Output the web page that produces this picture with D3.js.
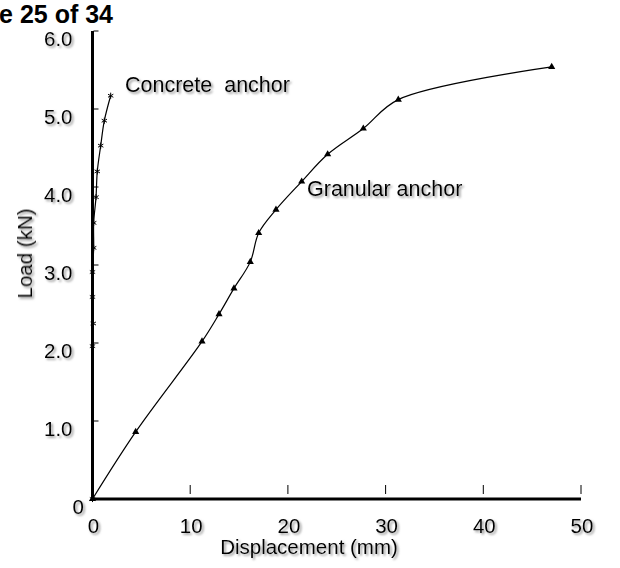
<!DOCTYPE html>
<html><head><meta charset="utf-8">
<script src="https://cdn.jsdelivr.net/npm/d3@7"></script>
<style>body{margin:0;background:#fff}svg{display:block}text{font-family:"Liberation Sans",Arial,sans-serif}</style>
</head><body><svg id="c" width="620" height="568"></svg>
<script>
const xTicks = [0, 10, 20, 30, 40, 50];
const yTicks = [0, 1, 2, 3, 4, 5, 6];
const yTickLabels = ["0", "1.0", "2.0", "3.0", "4.0", "5.0", "6.0"];
const concreteX = [0, 0, 0.08, 0, 0, 0.12, 0.12, 0.36, 0.49, 0.84, 1.21, 1.86];
const concreteY = [0, 1.96, 2.25, 2.59, 2.91, 3.22, 3.54, 3.87, 4.20, 4.53, 4.85, 5.17];
const granularX = [0, 4.42, 11.21, 12.95, 14.48, 16.15, 17.01, 18.78, 21.41, 24.07, 27.72, 31.30, 47.0];
const granularY = [0, 0.86, 2.02, 2.37, 2.70, 3.04, 3.41, 3.71, 4.07, 4.42, 4.75, 5.12, 5.54];

const svg = d3.select("#c");
const defs = svg.append("defs");
const f = defs.append("filter").attr("id","sh").attr("x","-20%").attr("y","-20%").attr("width","140%").attr("height","160%");
f.append("feDropShadow").attr("dx",1.8).attr("dy",1.8).attr("stdDeviation",1.1).attr("flood-color","#777").attr("flood-opacity",0.75);

const x = d3.scaleLinear().domain([0,50]).range([92.5,581]);
const y = d3.scaleLinear().domain([0,6]).range([499,31]);

// title (clipped page header)
svg.append("text").attr("x",113).attr("y",23).attr("text-anchor","end")
  .attr("font-size",25).attr("font-weight","bold").text("Page 25 of 34");

// axes lines
svg.append("line").attr("x1",x(0)).attr("x2",x(0)).attr("y1",y(6)).attr("y2",y(0)+1.5)
  .attr("stroke","#000").attr("stroke-width",3);
svg.append("line").attr("x1",x(0)-1.5).attr("x2",x(50)).attr("y1",y(0)).attr("y2",y(0))
  .attr("stroke","#000").attr("stroke-width",3);

// y ticks (inside, right)
svg.selectAll(".yt").data(yTicks.filter(d=>d>0)).join("line")
  .attr("x1",x(0)+1).attr("x2",x(0)+6).attr("y1",d=>y(d)).attr("y2",d=>y(d))
  .attr("stroke","#000").attr("stroke-width",1);
// x ticks (inside, up)
svg.selectAll(".xt").data(xTicks.filter(d=>d>0)).join("line")
  .attr("x1",d=>x(d)).attr("x2",d=>x(d)).attr("y1",y(0)-14).attr("y2",y(0)-5)
  .attr("stroke","#000").attr("stroke-width",1);

const lab = svg.append("g").attr("filter","url(#sh)").attr("font-size",20.5).attr("fill","#000");
lab.selectAll(".yl").data(yTicks).join("text")
  .attr("x",d=>d===0?84:72.5).attr("y",d=>y(d)+14.5).attr("text-anchor","end")
  .text((d,i)=>yTickLabels[i]);
lab.selectAll(".xl").data(xTicks).join("text")
  .attr("x",d=>x(d)+1).attr("y",532.5).attr("text-anchor","middle").text(d=>d);
lab.append("text").attr("x",309).attr("y",554).attr("text-anchor","middle").text("Displacement (mm)");
lab.append("text").attr("transform","translate(32,253.5) rotate(-90)").attr("text-anchor","middle").text("Load (kN)");
lab.append("text").attr("x",125).attr("y",92).attr("font-size",21.5).attr("xml:space","preserve").style("white-space","pre").text("Concrete  anchor");
lab.append("text").attr("x",307).attr("y",196).attr("font-size",21.5).text("Granular anchor");

// series
const conc = concreteX.map((v,i)=>[v,concreteY[i]]);
const gran = granularX.map((v,i)=>[v,granularY[i]]);
const line = d3.line().x(d=>x(d[0])).y(d=>y(d[1])).curve(d3.curveCatmullRom.alpha(0.5));
svg.append("path").attr("d",line(gran)).attr("fill","none").attr("stroke","#000").attr("stroke-width",1.2);
svg.append("path").attr("d",line(conc)).attr("fill","none").attr("stroke","#000").attr("stroke-width",1.2);

svg.selectAll(".gm").data(gran).join("path")
  .attr("transform",d=>`translate(${x(d[0])},${y(d[1])})`)
  .attr("d",d3.symbol(d3.symbolTriangle,22)()).attr("fill","#000");
svg.selectAll(".cm").data(conc).join("path")
  .attr("transform",d=>`translate(${x(d[0])},${y(d[1])})`)
  .attr("d",d3.symbol(d3.symbolAsterisk,26)()).attr("fill","none").attr("stroke","#000").attr("stroke-width",1);
</script></body></html>
